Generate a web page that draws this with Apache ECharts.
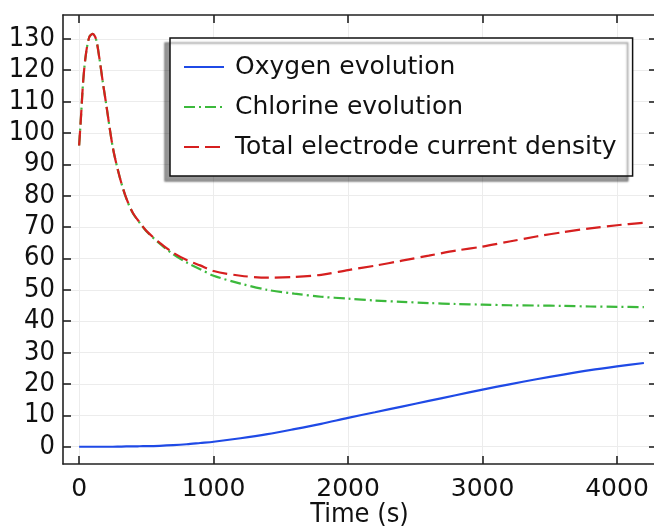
<!DOCTYPE html>
<html>
<head>
<meta charset="utf-8">
<script src="https://cdn.jsdelivr.net/npm/echarts@6/dist/echarts.min.js"></script>
<style>
  html, body { margin: 0; padding: 0; background: #fff; }
  #chart { width: 654px; height: 527px; }
</style>
</head>
<body>
<div id="chart"></div>
<script>
// time (s)
let times = [0, 15, 30, 50, 75, 100, 125, 150, 175, 200, 250, 300, 350, 400, 450, 500,
  600, 700, 800, 900, 1000, 1200, 1400, 1600, 1800, 2000, 2200, 2400, 2600, 2800,
  3000, 3200, 3400, 3600, 3800, 4000, 4200];

let oxygen = [0, 0, 0, 0, 0, 0, 0, 0, 0, 0, 0, 0.05, 0.1, 0.1, 0.15, 0.2,
  0.3, 0.5, 0.8, 1.2, 1.6, 2.7, 4.0, 5.6, 7.3, 9.2, 11.0, 12.8, 14.6, 16.4,
  18.2, 19.9, 21.5, 23.0, 24.4, 25.6, 26.7];

let chlorine = [96, 106, 116.5, 125, 130.5, 131.6, 130, 124, 116.5, 109.5, 95.5, 86.2, 79.2, 74.4, 71.4, 68.7,
  64.7, 61.3, 58.7, 56.6, 54.5, 52.0, 50.0, 48.8, 47.8, 47.2, 46.6, 46.2, 45.8, 45.5,
  45.3, 45.1, 45.0, 44.9, 44.7, 44.6, 44.5];

let total = [96, 106, 116.5, 125, 130.5, 131.6, 130, 124, 116.5, 109.5, 95.5, 86.2, 79.3, 74.5, 71.5, 68.8,
  65, 61.8, 59.5, 57.8, 56.0, 54.5, 53.9, 54.1, 54.8, 56.3, 57.7, 59.3, 60.9, 62.5,
  63.8, 65.4, 67.0, 68.4, 69.6, 70.6, 71.4];

let xTicks = [0, 1000, 2000, 3000, 4000];
let yTicks = [0, 10, 20, 30, 40, 50, 60, 70, 80, 90, 100, 110, 120, 130];

let xMin = -120, xMax = 4290;
let yMin = -5.5, yMax = 137.6;

let myChart = echarts.init(document.getElementById('chart'));

function pairs(vals) {
  return times.map((t, i) => [t, vals[i]]);
}

let frame = { show: true, onZero: false, lineStyle: { color: '#222', width: 1.6 } };
let tickStyle = { color: '#222', width: 1.6 };
let grid = { show: true, lineStyle: { color: '#ececec', width: 1 } };

let option = {
  backgroundColor: '#fff',
  animation: false,
  grid: { left: 63, top: 15, right: -2, bottom: 63, containLabel: false, outerBoundsMode: 'none' },
  legend: {
    orient: 'vertical',
    left: 170,
    top: 38,
    padding: [14, 16, 14, 13],
    itemGap: 10,
    itemWidth: 40,
    itemHeight: 14,
    selectedMode: false,
    itemStyle: { opacity: 0 },
    backgroundColor: '#fff',
    borderColor: '#111',
    borderWidth: 1.5,
    borderRadius: 0,
    shadowColor: 'rgba(0,0,0,0.4)',
    shadowBlur: 2,
    shadowOffsetX: -5,
    shadowOffsetY: 5,
    textStyle: {
      fontFamily: 'DejaVu Sans',
      fontSize: 25,
      lineHeight: 30,
      color: '#111',
      padding: [0, 0, 0, 6],
    },
  },
  xAxis: [
    {
      type: 'value',
      min: xMin,
      max: xMax,
      name: 'Time (s)',
      nameLocation: 'middle',
      nameGap: 37,
      nameMoveOverlap: false,
      nameTextStyle: { fontFamily: 'DejaVu Sans Condensed', fontSize: 27, color: '#111' },
      axisLine: frame,
      axisTick: { show: true, inside: true, length: 8, customValues: xTicks, lineStyle: tickStyle },
      axisLabel: {
        customValues: xTicks,
        margin: 13,
        fontFamily: 'DejaVu Sans',
        fontSize: 25,
        color: '#111',
        formatter: (v) => String(v),
      },
      splitLine: grid,
    },
    {
      type: 'value',
      position: 'top',
      min: xMin,
      max: xMax,
      axisLine: frame,
      axisTick: { show: true, inside: true, length: 8, customValues: xTicks, lineStyle: tickStyle },
      axisLabel: { show: false },
      splitLine: { show: false },
    },
  ],
  yAxis: [
    {
      type: 'value',
      min: yMin,
      max: yMax,
      axisLine: frame,
      axisTick: { show: true, inside: true, length: 8, customValues: yTicks, lineStyle: tickStyle },
      axisLabel: {
        customValues: yTicks,
        margin: 8,
        fontFamily: 'DejaVu Sans Condensed',
        fontSize: 27,
        color: '#111',
        formatter: (v) => String(v),
      },
      splitLine: grid,
    },
    {
      type: 'value',
      position: 'right',
      min: yMin,
      max: yMax,
      axisLine: frame,
      axisTick: { show: true, inside: true, length: 7, customValues: yTicks, lineStyle: tickStyle },
      axisLabel: { show: false },
      splitLine: { show: false },
    },
  ],
  series: [
    {
      name: 'Oxygen evolution',
      type: 'line',
      smooth: 0.3,
      symbol: 'none',
      data: pairs(oxygen),
      color: '#1f4ae6',
      lineStyle: { width: 2.2, type: 'solid' },
    },
    {
      name: 'Chlorine evolution',
      type: 'line',
      smooth: 0.3,
      symbol: 'none',
      data: pairs(chlorine),
      color: '#3cb93c',
      lineStyle: { width: 2.2, type: [11, 4, 2, 4] },
    },
    {
      name: 'Total electrode current density',
      type: 'line',
      smooth: 0.3,
      symbol: 'none',
      data: pairs(total),
      color: '#d61f1f',
      lineStyle: { width: 2.2, type: [15, 6] },
    },
  ],
};

myChart.setOption(option);
</script>
</body>
</html>
